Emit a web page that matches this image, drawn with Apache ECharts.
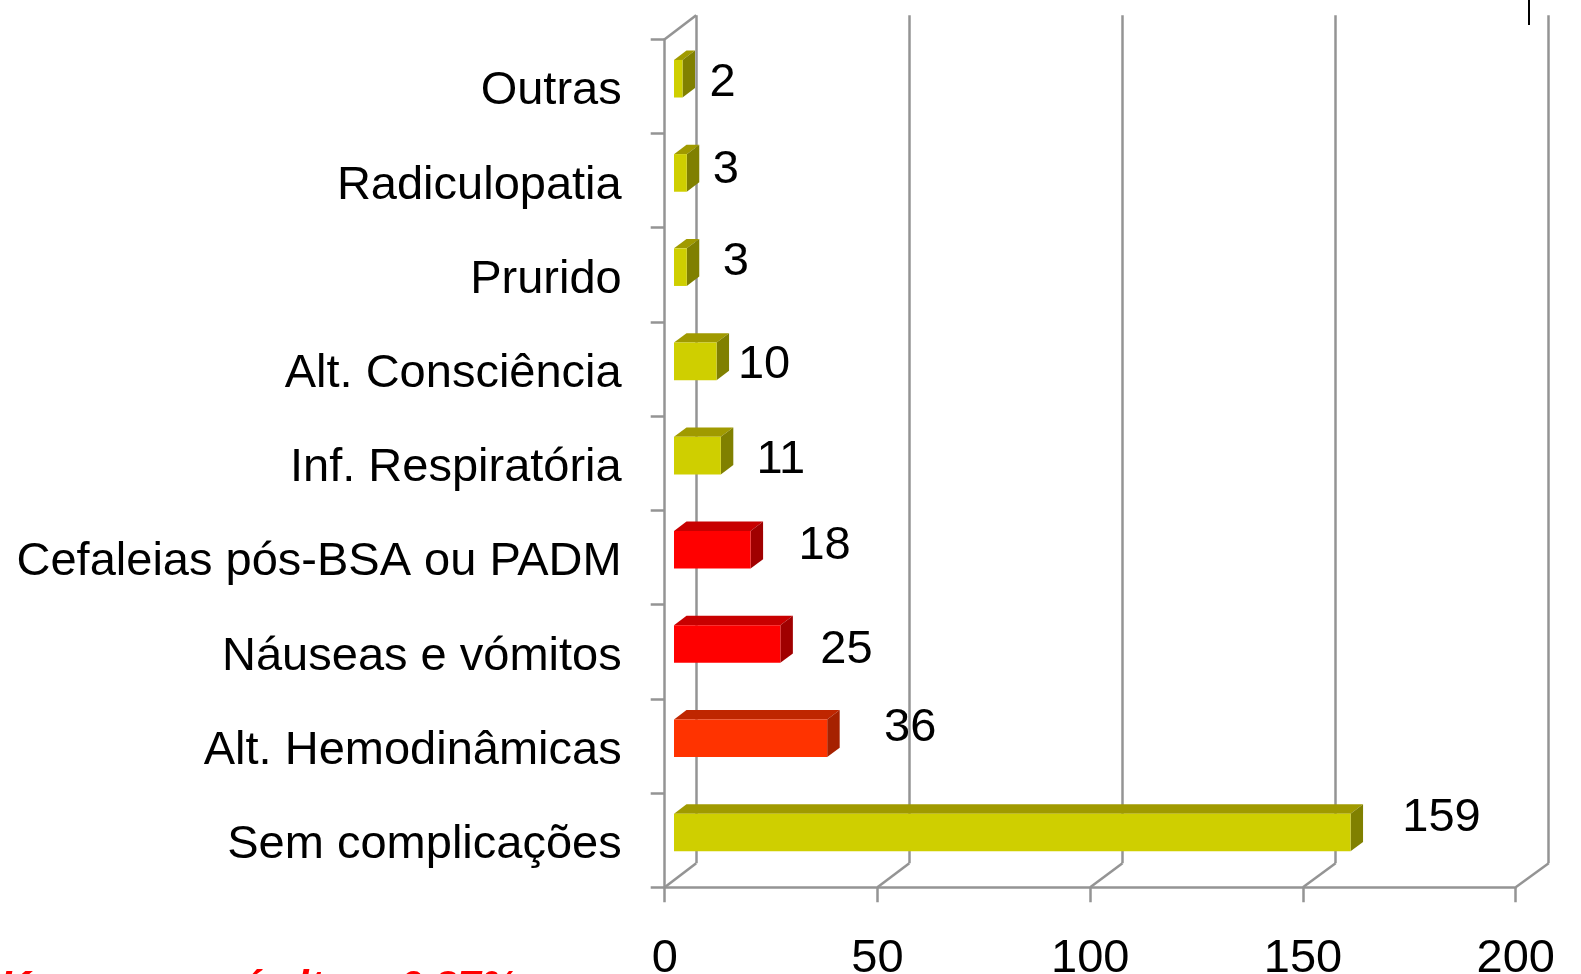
<!DOCTYPE html>
<html>
<head>
<meta charset="utf-8">
<style>html,body{margin:0;padding:0;background:#fff;overflow:hidden}#c{width:1581px;height:974px}</style>
<script src="https://cdn.jsdelivr.net/npm/echarts@6/dist/echarts.min.js"></script>
</head>
<body>
<div id="c"></div>
<script>
// Data (bottom to top)
const categories = ['Sem complicações','Alt. Hemodinâmicas','Náuseas e vómitos','Cefaleias pós-BSA ou PADM','Inf. Respiratória','Alt. Consciência','Prurido','Radiculopatia','Outras'];
const values = [159,36,25,18,11,10,3,3,2];
const xTicks = [0,50,100,150,200];
const footnoteParts = ['K','é','lt','0,27%'];

// Styling / layout
const barTone = ['yellow','orange','red','red','yellow','yellow','yellow','yellow','yellow'];
const tones = {
  yellow:{face:'#CFCF00',top:'#A09A00',side:'#808000'},
  red:{face:'#FF0000',top:'#C80000',side:'#A00000'},
  orange:{face:'#FF3300',top:'#BF2600',side:'#A62100'}
};
const labelDx = [91,83,66,74,60,47.5,49,39,40];
const labelDy = [-14.4,-10,6.5,-4,4.3,3.7,-5,-2.5,4];
const footnoteX = [0,241,297,399];
const FONT = '"Liberation Sans", Arial, sans-serif';
const GREY = '#949494';
const LINE_W = 2.5;
const DEPTH_Y = 24;
const BAR_DX = 12.5, BAR_DY = 9.4, BAR_H = 37.6, BAR_X0 = 9.3, BAR_SHIFT = -7.7;

function renderBar(params, api){
  const i = params.dataIndex;
  const v = api.value(0);
  const c = api.coord([v, i]);
  const o = api.coord([0, i]);
  const t = tones[barTone[i]];
  const x0 = o[0] + BAR_X0, x1 = c[0] + BAR_X0;
  const y0 = c[1] + BAR_SHIFT - BAR_H/2, y1 = y0 + BAR_H;
  return {type:'group',children:[
    {type:'polygon',shape:{points:[[x0,y0],[x0+BAR_DX,y0-BAR_DY],[x1+BAR_DX,y0-BAR_DY],[x1,y0]]},style:{fill:t.top}},
    {type:'polygon',shape:{points:[[x1,y0],[x1+BAR_DX,y0-BAR_DY],[x1+BAR_DX,y1-BAR_DY],[x1,y1]]},style:{fill:t.side}},
    {type:'rect',shape:{x:x0,y:y0,width:x1-x0,height:BAR_H},style:{fill:t.face}},
    {type:'text',z2:10,style:{x:x1+labelDx[i],y:(y0+y1)/2+labelDy[i],text:String(v),fill:'#000',font:'47px '+FONT,textAlign:'center',textVerticalAlign:'middle'}}
  ]};
}
function renderDiagonal(params, api){
  const v = api.value(0);
  const cs = params.coordSys;
  const x = api.coord([v,0])[0], y = cs.y + cs.height;
  const dx = 31.5 + 1.5*v/200;
  const kids = [{type:'line',shape:{x1:x,y1:y,x2:x+dx,y2:y-DEPTH_Y},style:{stroke:GREY,lineWidth:LINE_W,fill:null}}];
  if(v===0) kids.push({type:'line',shape:{x1:x,y1:cs.y,x2:x+dx,y2:cs.y-DEPTH_Y},style:{stroke:GREY,lineWidth:LINE_W,fill:null}});
  return {type:'group',children:kids};
}

const chart = echarts.init(document.getElementById('c'),null,{renderer:'canvas'});
chart.setOption({
  animation:false,
  backgroundColor:'#fff',
  grid:[
    {left:664.7,top:39.3,width:851,height:848,containLabel:false,outerBoundsMode:'none'},
    {left:696.2,top:15.3,width:852.5,height:848,containLabel:false,outerBoundsMode:'none'}
  ],
  xAxis:[
    {type:'value',gridIndex:0,min:0,max:200,interval:50,
     axisLine:{show:true,lineStyle:{color:GREY,width:LINE_W}},
     axisTick:{show:true,length:15,lineStyle:{color:GREY,width:LINE_W}},
     splitLine:{show:false},
     axisLabel:{show:true,margin:48,color:'#000',fontSize:47,fontFamily:FONT,hideOverlap:false,showMinLabel:true,showMaxLabel:true}},
    {type:'value',gridIndex:1,min:0,max:200,interval:50,
     axisLine:{show:false},axisTick:{show:false},axisLabel:{show:false},
     splitLine:{show:true,lineStyle:{color:GREY,width:LINE_W}}}
  ],
  yAxis:[
    {type:'category',gridIndex:0,data:categories,
     axisLine:{show:true,lineStyle:{color:GREY,width:LINE_W}},
     axisTick:{show:true,length:14,alignWithLabel:false,lineStyle:{color:GREY,width:LINE_W}},
     splitLine:{show:false},
     axisLabel:{show:true,margin:43,color:'#000',fontSize:47,fontFamily:FONT,interval:0,verticalAlign:'top',lineHeight:10}},
    {type:'value',gridIndex:1,min:0,max:1,show:false}
  ],
  series:[
    {type:'custom',name:'floor',coordinateSystem:'cartesian2d',xAxisIndex:0,yAxisIndex:0,z:1,silent:true,clip:false,
     renderItem:renderDiagonal,encode:{x:0},data:xTicks.map(v=>[v])},
    {type:'custom',name:'bars',coordinateSystem:'cartesian2d',xAxisIndex:0,yAxisIndex:0,z:5,silent:true,clip:false,
     renderItem:renderBar,encode:{x:0,y:1},data:values.map((v,i)=>[v,i])}
  ],
  graphic:[
    {type:'rect',shape:{x:1528,y:0,width:2,height:25},style:{fill:'#000'},silent:true},
    ...footnoteParts.map((t,i)=>({type:'text',x:footnoteX[i],y:967,silent:true,
      style:{text:t,fill:'#FF0000',font:'italic bold 42px '+FONT,textVerticalAlign:'top'}}))
  ]
});
</script>
</body>
</html>
